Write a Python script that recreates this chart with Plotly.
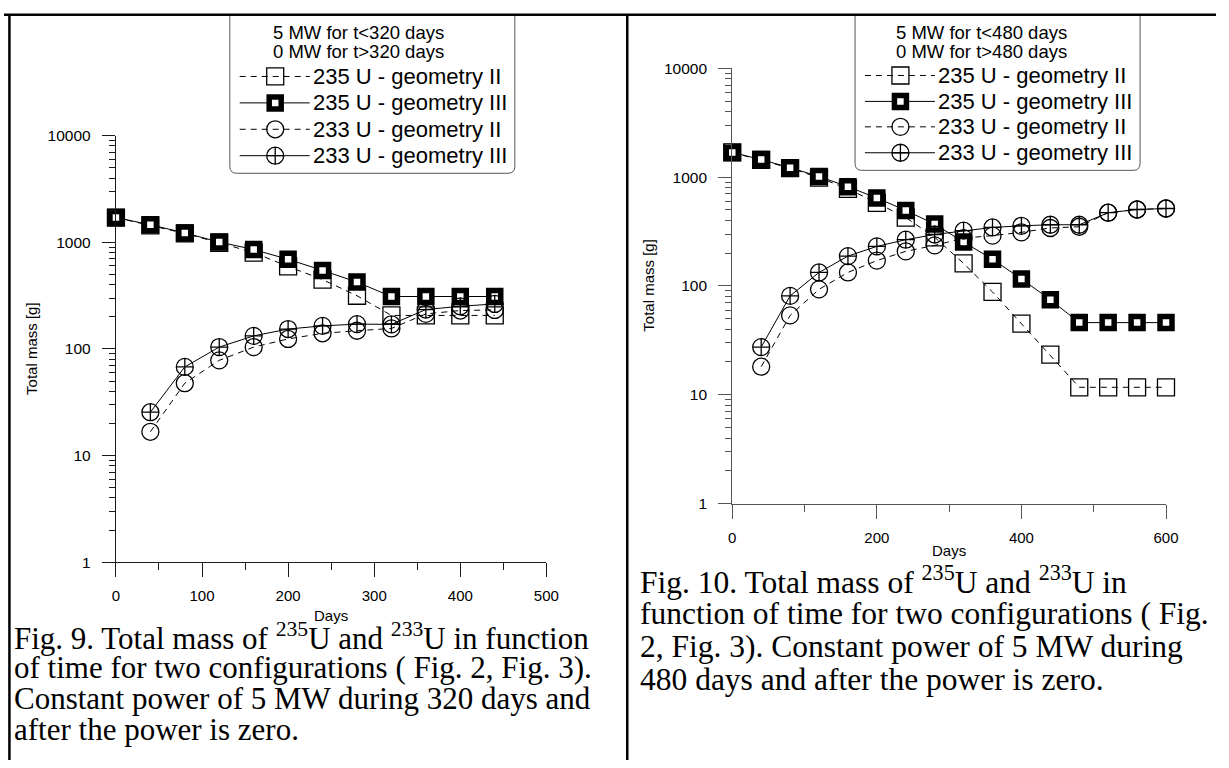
import plotly.graph_objects as go

W, H = 1229, 768

# ---- Fig. 9 data (5 MW for t<320 days) ----
days_a = [0, 40, 80, 120, 160, 200, 240, 280, 320, 360, 400, 440]
u235_g2_a = [1706, 1440, 1210, 990, 800, 593, 447, 315, 206, 206, 206, 206]
u235_g3_a = [1706, 1459, 1224, 1005, 855, 692, 545, 423, 310, 310, 310, 310]
days_233_a = [40, 80, 120, 160, 200, 240, 280, 320, 360, 400, 440]
u233_g2_a = [16.7, 47.7, 78.1, 104, 124, 140, 148, 155.5, 213, 229, 232]
u233_g3_a = [25.5, 67.8, 104, 132.5, 153.5, 164.5, 170.7, 170, 234, 251, 264]

# ---- Fig. 10 data (5 MW for t<480 days) ----
days_b = [0, 40, 80, 120, 160, 200, 240, 280, 320, 360, 400, 440, 480, 520, 560, 600]
u235_g2_b = [1687, 1440, 1210, 990, 780, 580, 425, 280, 161, 88, 45, 23.4, 11.7, 11.7, 11.7, 11.7]
u235_g3_b = [1687, 1450, 1221, 1014, 817, 643, 494, 370, 253, 176, 116, 74.7, 46, 46, 46, 46]
days_233_b = [40, 80, 120, 160, 200, 240, 280, 320, 360, 400, 440, 480, 520, 560, 600]
u233_g2_b = [18.1, 53.6, 93, 133, 171, 208, 236, 275, 290, 311, 341, 350, 471, 504, 515]
u233_g3_b = [27.4, 81, 133, 188, 231, 266, 297, 322, 345, 357, 365, 365, 471, 504, 515]

series_names = ["235 U - geometry II", "235 U - geometry III",
                "233 U - geometry II", "233 U - geometry III"]
y_tick_vals = [1, 10, 100, 1000, 10000]
y_tick_text = ["1", "10", "100", "1000", "10000"]
y_minor_vals = [k * 10 ** d for d in range(4) for k in range(2, 10)]

SANS = "Liberation Sans, Arial, sans-serif"
SERIF = "Liberation Serif, Times New Roman, serif"
DASH = "6px,5px"

# marker/line styles for the four series
styles = [
    dict(line=dict(color="black", width=1, dash=DASH),
         marker=dict(symbol="square-open", size=17, color="black", line=dict(width=1.3, color="black"))),
    dict(line=dict(color="black", width=1),
         marker=dict(symbol="square", size=12, color="white", line=dict(width=5.5, color="black"))),
    dict(line=dict(color="black", width=1, dash=DASH),
         marker=dict(symbol="circle-open", size=17, color="black", line=dict(width=1.3, color="black"))),
    dict(line=dict(color="black", width=1),
         marker=dict(symbol="circle-cross-open", size=17, color="black", line=dict(width=1.3, color="black"))),
]

fig = go.Figure()


def add_panel(xa, ya, series):
    for (xs, ys), st in zip(series, styles):
        fig.add_trace(go.Scatter(x=xs, y=ys, mode="lines+markers", xaxis=xa, yaxis=ya,
                                 line=st["line"], marker=st["marker"], cliponaxis=False,
                                 showlegend=False, hoverinfo="skip"))


add_panel("x", "y", [(days_a, u235_g2_a), (days_a, u235_g3_a),
                     (days_233_a, u233_g2_a), (days_233_a, u233_g3_a)])
add_panel("x2", "y2", [(days_b, u235_g2_b), (days_b, u235_g3_b),
                       (days_233_b, u233_g2_b), (days_233_b, u233_g3_b)])

# ---- legend boxes drawn on a pixel overlay axis ----
annotations = []
shapes = []


def legend_box(left, right, bottom, rows, head_x, lines, hidden_line):
    r = 7
    path = (f"M {left},6 L {left},{bottom - r} Q {left},{bottom} {left + r},{bottom} "
            f"L {right - r},{bottom} Q {right},{bottom} {right},{bottom - r} L {right},6")
    shapes.append(dict(type="path", path=path, xref="x3", yref="y3",
                       line=dict(color="#555555", width=1), layer="below"))
    # top header line, mostly hidden behind the frame
    fig.add_trace(go.Scatter(x=[head_x], y=[-1.5], mode="text", text=[hidden_line],
                             textfont=dict(family=SANS, size=18, color="black"),
                             xaxis="x3", yaxis="y3", cliponaxis=False,
                             showlegend=False, hoverinfo="skip"))
    for i, t in enumerate(lines):
        annotations.append(dict(x=head_x, y=24 + 19.5 * i, xref="x3", yref="y3", text=t,
                                showarrow=False, xanchor="center", yanchor="middle",
                                font=dict(family=SANS, size=18.5, color="black")))
    for name, st, ry in zip(series_names, styles, rows):
        fig.add_trace(go.Scatter(x=[left + 10, left + 81], y=[ry, ry], mode="lines",
                                 line=st["line"], xaxis="x3", yaxis="y3", cliponaxis=False,
                                 showlegend=False, hoverinfo="skip"))
        fig.add_trace(go.Scatter(x=[left + 46], y=[ry], mode="markers",
                                 marker=st["marker"], xaxis="x3", yaxis="y3", cliponaxis=False,
                                 showlegend=False, hoverinfo="skip"))
        annotations.append(dict(x=left + 82, y=ry, xref="x3", yref="y3", text=name,
                                showarrow=False, xanchor="left", yanchor="middle",
                                font=dict(family=SANS, size=22, color="black")))


legend_box(229, 518, 168, [69, 96, 123, 150], 359,
           ["5 MW for t<320 days", "0 MW for t>320 days"], "Energy production history")
legend_box(863, 1152, 165, [68, 94.5, 120.5, 147], 991,
           ["5 MW for t<480 days", "0 MW for t>480 days"], "Energy production history")

# white band above the page frame, then the frame lines
shapes.append(dict(type="rect", x0=0, x1=W, y0=-5, y1=5.5, xref="x3", yref="y3",
                   fillcolor="white", line=dict(width=0), layer="above"))
for x0, y0, x1, y1 in [(0, 6, W, 6), (5.5, 6, 5.5, H), (632, 6, 632, H)]:
    shapes.append(dict(type="line", x0=x0, y0=y0, x1=x1, y1=y1, xref="x3", yref="y3",
                       line=dict(color="black", width=2.5), layer="above"))

# ---- axis titles ----
for x, y in [(28, 347), (654, 282)]:
    annotations.append(dict(x=x, y=y, xref="x3", yref="y3", text="Total mass [g]",
                            textangle=-90, showarrow=False,
                            font=dict(family=SANS, size=15, color="black")))
for x, y in [(332, 620), (958, 554)]:
    annotations.append(dict(x=x, y=y, xref="x3", yref="y3", text="Days", showarrow=False,
                            font=dict(family=SANS, size=15, color="black")))

# ---- captions ----
cap_a = ["Fig. 9. Total mass of <sup>235</sup>U and <sup>233</sup>U in function",
         "of time for two configurations ( Fig. 2, Fig. 3).",
         "Constant power of 5 MW during 320 days and",
         "after the power is zero."]
cap_b = ["Fig. 10. Total mass of <sup>235</sup>U and <sup>233</sup>U in",
         "function of time for two configurations ( Fig.",
         "2, Fig. 3). Constant power of 5 MW during",
         "480 days and after the power is zero."]
for i, t in enumerate(cap_a):
    annotations.append(dict(x=8, y=642 + 31.5 * i, xref="x3", yref="y3", text=t,
                            showarrow=False, xanchor="left", yanchor="middle",
                            font=dict(family=SERIF, size=31, color="black")))
for i, t in enumerate(cap_b):
    annotations.append(dict(x=643, y=584 + 34 * i, xref="x3", yref="y3", text=t,
                            showarrow=False, xanchor="left", yanchor="middle",
                            font=dict(family=SERIF, size=31.5, color="black")))


def xaxis(domain, rng, dtick, minor_dtick, color):
    return dict(domain=domain, range=rng, dtick=dtick, tick0=0, showgrid=False, zeroline=False,
                showline=True, linecolor=color, linewidth=1.3, ticks="outside", ticklen=14,
                tickwidth=1.3, tickcolor=color, ticklabelstandoff=6,
                tickfont=dict(family=SANS, size=15, color="black"),
                minor=dict(dtick=minor_dtick, tick0=0, ticks="outside", ticklen=7,
                           tickwidth=1.3, tickcolor=color, showgrid=False))


def yaxis(domain, color, anchor):
    return dict(domain=domain, type="log", range=[0, 4], anchor=anchor, showgrid=False,
                zeroline=False, showline=True, linecolor=color, linewidth=1.3,
                tickmode="array", tickvals=y_tick_vals, ticktext=y_tick_text,
                ticks="outside", ticklen=13, tickwidth=1.3, tickcolor=color,
                ticklabelstandoff=8, tickfont=dict(family=SANS, size=15.5, color="black"),
                minor=dict(tickmode="array", tickvals=y_minor_vals, ticks="outside",
                           ticklen=6, tickwidth=1.3, tickcolor=color, showgrid=False))


xa = xaxis([113.5 / W, 550 / W], [0, 500], 100, 50, "#1a1a1a")
xa["anchor"] = "y"
xb = xaxis([738.5 / W, 1178.3 / W], [0, 600], 200, 100, "#555555")
xb["anchor"] = "y2"

fig.update_layout(
    width=W, height=H, margin=dict(l=0, r=0, t=0, b=0),
    paper_bgcolor="white", plot_bgcolor="rgba(0,0,0,0)", showlegend=False,
    xaxis=xa,
    yaxis=yaxis([(H - 565.7) / H, (H - 129.5) / H], "#1a1a1a", "x"),
    xaxis2=xb,
    yaxis2=yaxis([(H - 505.7) / H, (H - 60.7) / H], "#555555", "x2"),
    xaxis3=dict(domain=[0, 1], range=[0, W], visible=False, anchor="y3", fixedrange=True),
    yaxis3=dict(domain=[0, 1], range=[H, 0], visible=False, anchor="x3", fixedrange=True),
    annotations=annotations, shapes=shapes,
)

fig.write_html("out.html")
